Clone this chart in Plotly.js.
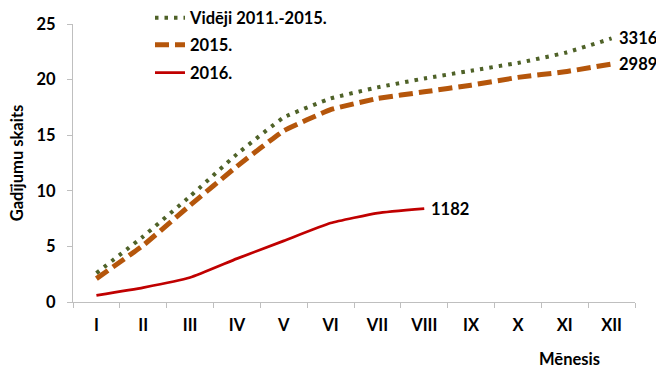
<!DOCTYPE html>
<html>
<head>
<meta charset="utf-8">
<script src="https://cdn.plot.ly/plotly-3.0.1.min.js"></script>
<style>html,body{margin:0;padding:0;background:#fff;}#chart{width:656px;height:372px;}</style>
</head>
<body>
<div id="chart"></div>
<script>
const months = ['I','II','III','IV','V','VI','VII','VIII','IX','X','XI','XII'];
const seriesNames = ['Vidēji 2011.-2015.', '2015.', '2016.'];
const avg2011_2015 = [2.6, 5.9, 9.5, 13.3, 16.6, 18.3, 19.3, 20.1, 20.8, 21.5, 22.4, 23.7];
const y2015 = [2.1, 5.1, 8.7, 12.2, 15.4, 17.3, 18.3, 18.9, 19.5, 20.2, 20.7, 21.4];
const y2016 = [0.6, 1.3, 2.2, 3.9, 5.5, 7.1, 8.0, 8.4];
const endLabels = ['3316', '2989', '1182'];
const yTicks = [0, 5, 10, 15, 20, 25];

const FONT = 'Lato, "Open Sans", sans-serif';
const FS = 16.5;
const boldFont = {family: FONT, size: FS, color: '#000', weight: 700};

const series = [
  {name: seriesNames[0], x: months, y: avg2011_2015, label: endLabels[0], legend: 'legend',
   line: {color: '#4F6228', width: 4, dash: '3.5px,6px', shape: 'spline', smoothing: 0.3}},
  {name: seriesNames[1], x: months, y: y2015, label: endLabels[1], legend: 'legend2',
   line: {color: '#B5560B', width: 5, dash: '14px,6px', shape: 'spline', smoothing: 0.3}},
  {name: seriesNames[2], x: months.slice(0, y2016.length), y: y2016, label: endLabels[2], legend: 'legend3',
   line: {color: '#C00000', width: 2.75, shape: 'spline', smoothing: 0.4}}
];

const traces = series.map(s => ({x: s.x, y: s.y, name: s.name, type: 'scatter', mode: 'lines',
  legend: s.legend, line: s.line}));

const labelAnns = series.map(s => ({x: s.x[s.x.length - 1], y: s.y[s.y.length - 1], xref: 'x', yref: 'y',
  text: s.label, showarrow: false, xanchor: 'left', yanchor: 'middle', xshift: 5, font: boldFont}));

const PH = 302; // paper height (372 - bottom margin)
function leg(yPix) {
  return {x: 0.137, y: 1 - yPix / PH, xanchor: 'left', yanchor: 'middle', font: boldFont, bgcolor: 'rgba(0,0,0,0)'};
}

const layout = {
  width: 656, height: 372,
  margin: {l: 73, r: 21, t: 0, b: 70},
  paper_bgcolor: '#fff', plot_bgcolor: '#fff',
  font: boldFont,
  showlegend: true,
  legend: leg(18), legend2: leg(45), legend3: leg(73),
  xaxis: {type: 'category', categoryarray: months, range: [-0.5, 11.5], showgrid: false, zeroline: false,
          showline: true, linecolor: '#BFBFBF', linewidth: 1, ticks: 'outside', tickson: 'boundaries',
          ticklen: 5, tickcolor: '#BFBFBF', ticklabelstandoff: 8, tickangle: 0, tickfont: boldFont},
  yaxis: {domain: [0, 1 - 24 / PH], range: [0, 25], tickvals: yTicks, showgrid: false, zeroline: false, showline: true,
          linecolor: '#BFBFBF', linewidth: 1, ticks: 'outside', ticklen: 5, tickcolor: '#BFBFBF',
          ticklabelstandoff: 8, tickfont: boldFont,
          title: {text: 'Gadījumu skaits', standoff: 8, font: boldFont}},
  annotations: [
    {text: 'Mēnesis', xref: 'paper', yref: 'paper', x: 0.884, y: -0.19, xanchor: 'center', yanchor: 'middle',
     showarrow: false, font: boldFont}
  ].concat(labelAnns)
};

Plotly.newPlot('chart', traces, layout, {displayModeBar: false, staticPlot: true});
</script>
</body>
</html>
